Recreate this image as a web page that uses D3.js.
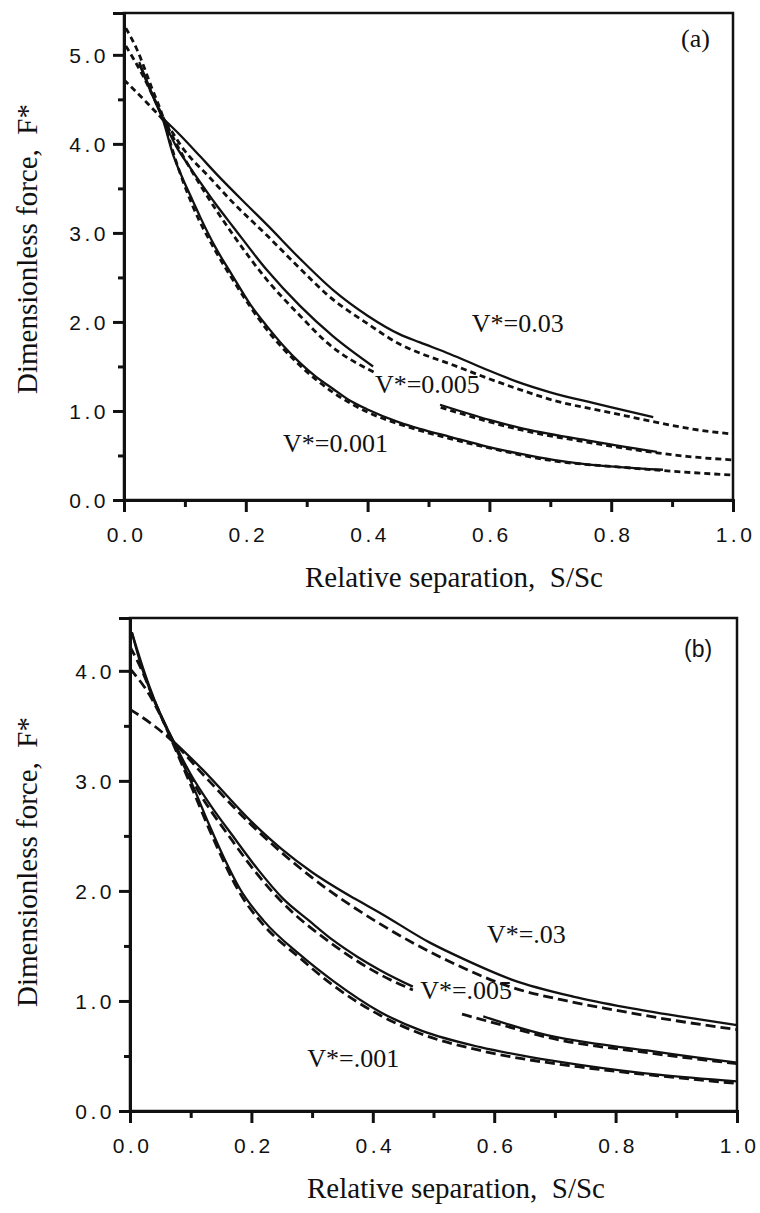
<!DOCTYPE html>
<html>
<head>
<meta charset="utf-8">
<script src="https://cdn.jsdelivr.net/npm/d3@7"></script>
<style>
  body { margin: 0; background: #fff; }
  svg { display: block; }
  .axis text { font-family: 'Liberation Sans', Arial, sans-serif; font-size: 21px; letter-spacing: 3.5px; fill: #111; }
  .axis path, .axis line { stroke: #111; stroke-width: 3; }
  .title { font-family: 'Liberation Serif', 'Times New Roman', serif; font-size: 29px; fill: #111; }
  .vlabel { font-family: 'Liberation Serif', 'Times New Roman', serif; font-size: 26px; fill: #111; }
</style>
</head>
<body>
<div id="chart"></div>
<script>
// values: [S/Sc, F*], null = gap behind a label
// panel (a)
let a03Solid = [[0.065, 4.28], [0.092, 4.10], [0.125, 3.86], [0.152, 3.66], [0.207, 3.28], [0.235, 3.09], [0.289, 2.71], [0.343, 2.36], [0.40, 2.07], [0.453, 1.86], [0.486, 1.77], [0.535, 1.64], [0.59, 1.48], [0.645, 1.33], [0.70, 1.21], [0.77, 1.09], [0.82, 1.01], [0.869, 0.93]]
let a03Dashed = [[0, 4.72], [0.035, 4.48], [0.07, 4.22], [0.10, 3.92], [0.141, 3.62], [0.179, 3.34], [0.235, 2.97], [0.289, 2.6], [0.333, 2.31], [0.40, 1.98], [0.453, 1.75], [0.486, 1.65], [0.535, 1.53], [0.596, 1.37], [0.65, 1.24], [0.705, 1.12], [0.80, 0.98], [0.869, 0.88], [0.93, 0.80], [1.0, 0.74]]
let a005Solid = [[0.025, 4.9], [0.045, 4.57], [0.064, 4.28], [0.085, 3.98], [0.108, 3.74], [0.125, 3.57], [0.152, 3.31], [0.179, 3.07], [0.235, 2.58], [0.289, 2.18], [0.343, 1.84], [0.409, 1.50], [0.45, null], [0.519, 1.07], [0.60, 0.90], [0.65, 0.81], [0.76, 0.67], [0.875, 0.54]]
let a005Dashed = [[0.003, 5.1], [0.03, 4.78], [0.064, 4.3], [0.09, 3.95], [0.125, 3.54], [0.179, 2.98], [0.235, 2.47], [0.289, 2.07], [0.333, 1.77], [0.415, 1.42], [0.45, null], [0.52, 1.04], [0.65, 0.79], [0.76, 0.65], [0.875, 0.53], [0.924, 0.49], [1.0, 0.45]]
let a001Solid = [[0.025, 4.92], [0.045, 4.58], [0.064, 4.27], [0.081, 3.87], [0.097, 3.6], [0.113, 3.36], [0.125, 3.18], [0.15, 2.84], [0.179, 2.51], [0.207, 2.2], [0.235, 1.95], [0.262, 1.73], [0.289, 1.54], [0.316, 1.38], [0.343, 1.25], [0.37, 1.12], [0.399, 1.02], [0.453, 0.87], [0.486, 0.80], [0.535, 0.71], [0.596, 0.60], [0.65, 0.52], [0.705, 0.45], [0.76, 0.40], [0.814, 0.37], [0.885, 0.34]]
let a001Dashed = [[0.003, 5.3], [0.02, 5.08], [0.045, 4.64], [0.064, 4.3], [0.081, 3.9], [0.113, 3.3], [0.15, 2.8], [0.179, 2.47], [0.235, 1.91], [0.289, 1.51], [0.343, 1.21], [0.399, 0.99], [0.453, 0.85], [0.535, 0.69], [0.596, 0.59], [0.705, 0.44], [0.814, 0.37], [0.885, 0.33], [0.95, 0.30], [1.0, 0.28]]

// panel (b)
let b03Solid = [[0.06, 3.42], [0.12, 3.1], [0.2, 2.63], [0.25, 2.38], [0.3, 2.17], [0.37, 1.93], [0.412, 1.80], [0.494, 1.53], [0.55, 1.38], [0.631, 1.19], [0.73, 1.04], [0.82, 0.94], [0.906, 0.86], [1.0, 0.78]]
let b03Dashed = [[0, 3.65], [0.035, 3.52], [0.07, 3.36], [0.12, 3.06], [0.2, 2.6], [0.3, 2.12], [0.412, 1.70], [0.522, 1.37], [0.631, 1.12], [0.72, 1.0], [0.796, 0.92], [0.9, 0.82], [1.0, 0.74]]
let b005Solid = [[0.003, 4.35], [0.02, 4.05], [0.04, 3.74], [0.07, 3.38], [0.1, 3.06], [0.135, 2.76], [0.168, 2.51], [0.21, 2.2], [0.252, 1.93], [0.295, 1.73], [0.335, 1.55], [0.375, 1.40], [0.412, 1.28], [0.466, 1.13], [0.52, null], [0.582, 0.86], [0.687, 0.69], [0.77, 0.61], [0.852, 0.55], [0.93, 0.49], [1.0, 0.44]]
let b005Dashed = [[0, 4.02], [0.03, 3.8], [0.07, 3.37], [0.1, 3.03], [0.168, 2.46], [0.21, 2.15], [0.252, 1.89], [0.335, 1.51], [0.412, 1.24], [0.466, 1.10], [0.50, null], [0.547, 0.88], [0.62, 0.77], [0.687, 0.67], [0.852, 0.53], [1.0, 0.43]]
let b001Solid = [[0.003, 4.35], [0.02, 4.02], [0.04, 3.73], [0.07, 3.36], [0.104, 2.95], [0.129, 2.62], [0.155, 2.3], [0.181, 2.02], [0.22, 1.73], [0.28, 1.42], [0.335, 1.18], [0.412, 0.90], [0.48, 0.73], [0.577, 0.58], [0.66, 0.49], [0.741, 0.42], [0.87, 0.33], [1.0, 0.27]]
let b001Dashed = [[0, 4.22], [0.02, 4.0], [0.04, 3.73], [0.07, 3.35], [0.104, 2.91], [0.129, 2.58], [0.155, 2.26], [0.181, 1.98], [0.22, 1.69], [0.28, 1.39], [0.335, 1.14], [0.412, 0.87], [0.48, 0.70], [0.577, 0.55], [0.741, 0.40], [0.87, 0.32], [1.0, 0.25]]

let xTicks = [0, 0.2, 0.4, 0.6, 0.8, 1.0]
let xMinor = [0.1, 0.3, 0.5, 0.7, 0.9]
let aYTicks = [0, 1, 2, 3, 4, 5]
let bYTicks = [0, 1, 2, 3, 4]

let aLabels = ['V*=0.03', 'V*=0.005', 'V*=0.001']
let bLabels = ['V*=.03', 'V*=.005', 'V*=.001']

let width = 760
let height = 1213

let svg = d3
  .select('#chart')
  .append('svg')
  .attr('width', width)
  .attr('height', height)

let panels = [
  {
    left: 124, right: 733, top: 13, bottom: 500, yMax: 5.47,
    yTicks: aYTicks, yMinor: [0.5, 1.5, 2.5, 3.5, 4.5],
    solids: [a03Solid, a005Solid, a001Solid],
    dashed: [a03Dashed, a005Dashed, a001Dashed],
    dash: '6,4',
    labels: aLabels,
    labelPos: [[0.571, 1.89], [0.412, 1.20], [0.261, 0.54]],
    tag: '(a)', tagPos: [0.962, 5.09], tagSerif: true,
    xTitleX: 454, xTitleY: 587, yTitleX: 37, yTitleY: 249
  },
  {
    left: 130, right: 737, top: 618, bottom: 1111, yMax: 4.48,
    yTicks: bYTicks, yMinor: [0.5, 1.5, 2.5, 3.5],
    solids: [b03Solid, b005Solid, b001Solid],
    dashed: [b03Dashed, b005Dashed, b001Dashed],
    dash: '10,5',
    labels: bLabels,
    labelPos: [[0.588, 1.53], [0.478, 1.02], [0.292, 0.40]],
    tag: '(b)', tagPos: [0.959, 4.13], tagSerif: false,
    xTitleX: 456, xTitleY: 1198, yTitleX: 37, yTitleY: 862
  }
]

panels.forEach(p => {
  let x = d3.scaleLinear().domain([0, 1]).range([p.left, p.right])
  let y = d3.scaleLinear().domain([0, p.yMax]).range([p.bottom, p.top])

  let g = svg.append('g')

  // frame
  g.append('rect')
    .attr('x', p.left)
    .attr('y', p.top)
    .attr('width', p.right - p.left)
    .attr('height', p.bottom - p.top)
    .attr('fill', 'none')
    .attr('stroke', '#111')
    .attr('stroke-width', 2.5)

  let line = d3.line()
    .defined(d => d[1] != null)
    .x(d => x(d[0]))
    .y(d => y(d[1]))
    .curve(d3.curveMonotoneX)

  g.selectAll('.solid')
    .data(p.solids)
    .enter()
    .append('path')
    .attr('class', 'solid')
    .attr('d', line)
    .attr('fill', 'none')
    .attr('stroke', '#111')
    .attr('stroke-width', 2.3)

  g.selectAll('.dashed')
    .data(p.dashed)
    .enter()
    .append('path')
    .attr('class', 'dashed')
    .attr('d', line)
    .attr('fill', 'none')
    .attr('stroke', '#111')
    .attr('stroke-width', 2.8)
    .attr('stroke-dasharray', p.dash)

  // axes, major and minor
  let yAxis = g.append('g')
    .attr('class', 'axis')
    .attr('transform', 'translate(' + p.left + ',0)')
    .call(d3.axisLeft(y).tickValues(p.yTicks).tickSize(11).tickPadding(4).tickFormat(d3.format('.1f')))
  yAxis.selectAll('text').attr('dy', '0.36em')

  g.append('g')
    .attr('class', 'axis')
    .attr('transform', 'translate(' + p.left + ',0)')
    .call(d3.axisLeft(y).tickValues(p.yMinor).tickSize(6).tickFormat(''))
    .select('.domain').remove()

  let xAxis = g.append('g')
    .attr('class', 'axis')
    .attr('transform', 'translate(0,' + p.bottom + ')')
    .call(d3.axisBottom(x).tickValues(xTicks).tickSize(12).tickPadding(15).tickFormat(d3.format('.1f')))
  xAxis.selectAll('text').attr('dx', '2px')

  g.append('g')
    .attr('class', 'axis')
    .attr('transform', 'translate(0,' + p.bottom + ')')
    .call(d3.axisBottom(x).tickValues(xMinor).tickSize(7).tickFormat(''))
    .select('.domain').remove()

  // curve labels
  g.selectAll('.vlabel')
    .data(p.labels)
    .enter()
    .append('text')
    .attr('class', 'vlabel')
    .attr('x', (d, i) => x(p.labelPos[i][0]))
    .attr('y', (d, i) => y(p.labelPos[i][1]))
    .text(d => d)

  g.append('text')
    .attr('x', x(p.tagPos[0]))
    .attr('y', y(p.tagPos[1]))
    .attr('text-anchor', 'end')
    .style('font-family', p.tagSerif ? "'Liberation Serif', serif" : "'Liberation Sans', Arial, sans-serif")
    .style('font-size', p.tagSerif ? '26px' : '23px')
    .attr('fill', '#111')
    .text(p.tag)

  g.append('text')
    .attr('class', 'title')
    .attr('x', p.xTitleX)
    .attr('y', p.xTitleY)
    .attr('text-anchor', 'middle')
    .text('Relative separation,\u00a0 S/Sc')

  g.append('text')
    .attr('class', 'title')
    .attr('transform', 'translate(' + p.yTitleX + ',' + p.yTitleY + ') rotate(-90)')
    .attr('text-anchor', 'middle')
    .text('Dimensionless force,\u00a0 F*')
})
</script>
</body>
</html>
